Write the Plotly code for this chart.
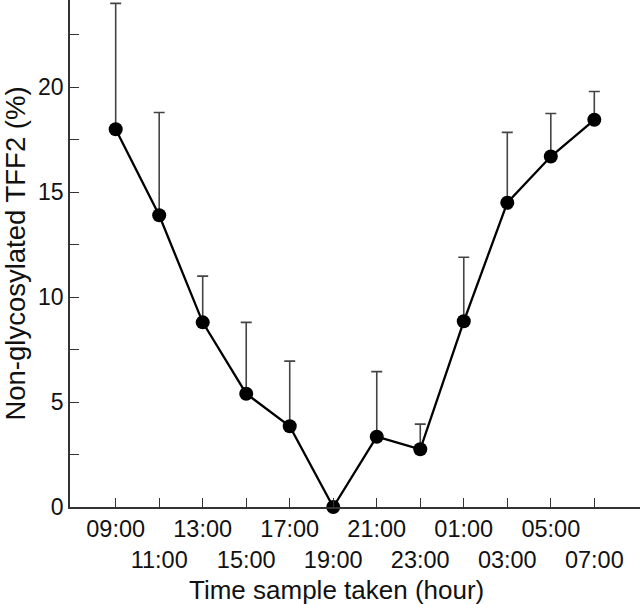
import plotly.graph_objects as go

times = ["09:00", "11:00", "13:00", "15:00", "17:00", "19:00",
         "21:00", "23:00", "01:00", "03:00", "05:00", "07:00"]
values = [18.0, 13.9, 8.8, 5.4, 3.85, 0.0, 3.35, 2.75, 8.85, 14.5, 16.7, 18.45]
sd_upper = [6.0, 4.9, 2.2, 3.4, 3.1, 0.0, 3.1, 1.2, 3.05, 3.35, 2.05, 1.35]

x_idx = list(range(len(times)))
tick_text = [t if i % 2 == 0 else "<br>" + t for i, t in enumerate(times)]

FONT = "Liberation Sans, Arial, Helvetica, sans-serif"

fig = go.Figure()
fig.add_trace(go.Scatter(
    x=x_idx, y=values, mode="lines+markers",
    line=dict(color="black", width=2.3),
    marker=dict(color="black", size=14),
    error_y=dict(type="data", symmetric=False, array=sd_upper,
                 arrayminus=[0] * len(values),
                 color="#444444", thickness=1.6, width=5.5),
    cliponaxis=False,
    showlegend=False,
))

fig.add_annotation(
    text="Time sample taken (hour)", xref="paper", yref="paper",
    x=0.468, y=0, xanchor="center", yanchor="top", yshift=-66,
    showarrow=False, font=dict(size=26, family=FONT, color="#111111"),
)

fig.update_layout(
    width=640, height=604,
    margin=dict(l=70, r=0, t=0, b=97, autoexpand=False),
    paper_bgcolor="white", plot_bgcolor="white",
    font=dict(family=FONT, size=23, color="#111111"),
    xaxis=dict(
        range=[-1.05, 12.05], tickmode="array", tickvals=x_idx, ticktext=tick_text,
        tickangle=0,
        ticks="inside", ticklen=9, tickwidth=1.3, tickcolor="#333333",
        showline=True, linecolor="#333333", linewidth=1.6,
        showgrid=False, zeroline=False, automargin=False,
        tickfont=dict(size=23.5),
    ),
    yaxis=dict(
        range=[0, 24.16], tickmode="array", tickvals=[0, 5, 10, 15, 20],
        ticks="inside", ticklen=9, tickwidth=1.3, tickcolor="#333333",
        minor=dict(tickmode="array", tickvals=[2.5, 7.5, 12.5, 17.5, 22.5],
                   ticks="inside", ticklen=9, tickwidth=1.3, tickcolor="#333333"),
        showline=True, linecolor="#333333", linewidth=1.6,
        showgrid=False, zeroline=False, automargin=False,
        tickfont=dict(size=23),
        title=dict(text="Non-glycosylated TFF2 (%)", font=dict(size=27.5), standoff=8),
    ),
)

fig.write_html("out.html", config={"displayModeBar": False},
               post_script="document.body.style.margin='0';document.body.style.overflow='hidden';")
